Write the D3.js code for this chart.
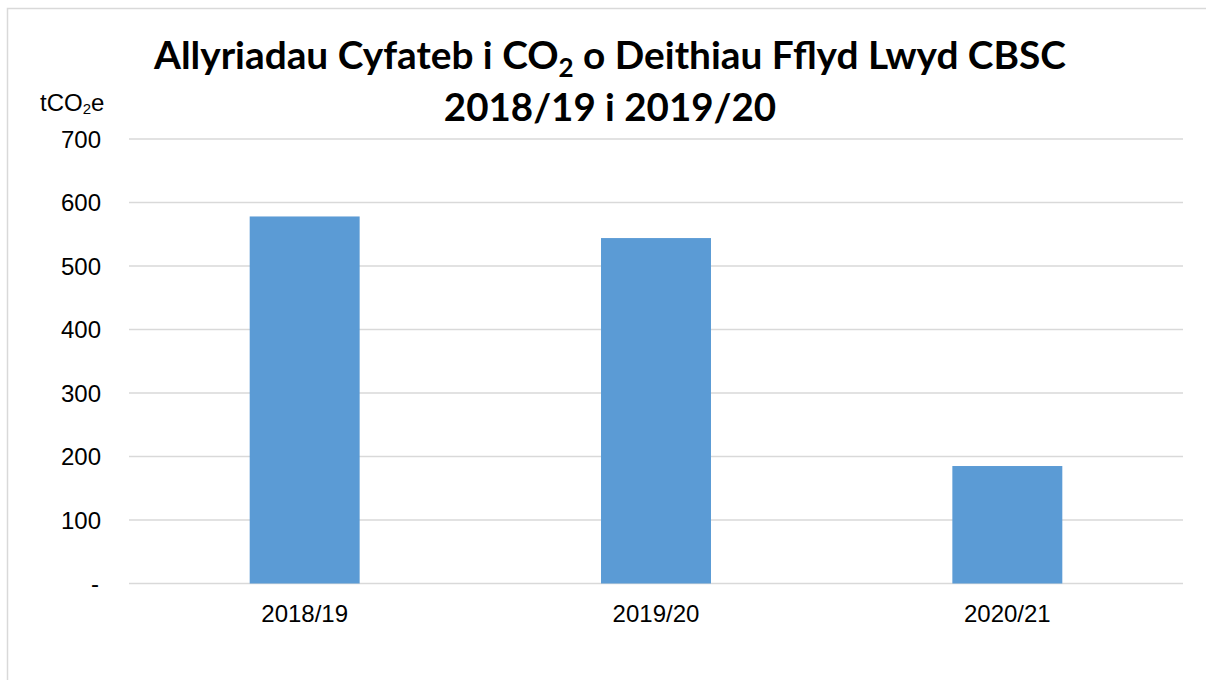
<!DOCTYPE html>
<html>
<head>
<meta charset="utf-8">
<script src="https://cdn.jsdelivr.net/npm/d3@7"></script>
<style>
  body { margin: 0; background: #fff; }
  svg { display: block; }
</style>
</head>
<body>
<svg id="chart"></svg>
<script>
const W = 1206, H = 680

const years = ['2018/19', '2019/20', '2020/21']
const emissions = [578, 544, 185]
const yTicks = [0, 100, 200, 300, 400, 500, 600, 700]

const margin = { left: 129, right: 23, top: 139, bottom: 96 }
const labelFont = 'Liberation Sans, Arial, sans-serif'

const svg = d3.select('#chart').attr('width', W).attr('height', H)

// chart frame
svg.append('rect')
  .attr('x', 7.5).attr('y', 8.5)
  .attr('width', W + 10).attr('height', H + 10)
  .attr('fill', 'none').attr('stroke', '#d9d9d9').attr('stroke-width', 1.5)

const x = d3.scaleBand()
  .domain(years)
  .range([margin.left, W - margin.right])
  .paddingInner(0.687).paddingOuter(0.3435)

const y = d3.scaleLinear()
  .domain([0, 700])
  .range([H - margin.bottom - 0.5, margin.top])

// gridlines
svg.append('g').selectAll('line')
  .data(yTicks)
  .enter().append('line')
  .attr('x1', margin.left).attr('x2', W - margin.right)
  .attr('y1', d => y(d)).attr('y2', d => y(d))
  .attr('stroke', '#d9d9d9').attr('stroke-width', 1.5)

// y tick labels
svg.append('g').selectAll('text')
  .data(yTicks)
  .enter().append('text')
  .attr('x', d => d === 0 ? 99 : 101)
  .attr('y', d => y(d) + 8.5)
  .attr('text-anchor', 'end')
  .attr('font-family', labelFont)
  .attr('font-size', 24)
  .attr('fill', '#000')
  .text(d => d === 0 ? '-' : d)

// bars
svg.append('g').selectAll('rect')
  .data(emissions)
  .enter().append('rect')
  .attr('x', (d, i) => x(years[i]))
  .attr('width', x.bandwidth())
  .attr('y', d => y(d))
  .attr('height', d => y(0) - y(d))
  .attr('fill', '#5b9bd5')

// x labels
svg.append('g').selectAll('text')
  .data(years)
  .enter().append('text')
  .attr('x', d => x(d) + x.bandwidth() / 2)
  .attr('y', y(0) + 38)
  .attr('text-anchor', 'middle')
  .attr('font-family', labelFont)
  .attr('font-size', 24)
  .attr('fill', '#000')
  .text(d => d)

// unit label
const unit = svg.append('text')
  .attr('x', 40).attr('y', 111)
  .attr('font-family', labelFont)
  .attr('font-size', 24)
  .attr('fill', '#000')
unit.append('tspan').text('tCO')
unit.append('tspan').attr('font-size', 15).attr('dy', 3).text('2')
unit.append('tspan').attr('dy', -3).text('e')

// title
const titleFont = 'Lato, Open Sans, sans-serif'
const t1 = svg.append('text')
  .attr('x', 610).attr('y', 69)
  .attr('text-anchor', 'middle')
  .attr('font-family', titleFont)
  .attr('font-weight', 'bold')
  .attr('font-size', 38.8)
  .attr('fill', '#000')
t1.append('tspan').text('Allyriadau Cyfateb i CO')
t1.append('tspan').attr('font-size', 26).attr('dy', 8).text('2')
t1.append('tspan').attr('dy', -8).text(' o Deithiau Fflyd Lwyd CBSC')

svg.append('text')
  .attr('x', 610).attr('y', 121)
  .attr('text-anchor', 'middle')
  .attr('font-family', titleFont)
  .attr('font-weight', 'bold')
  .attr('font-size', 38.5)
  .attr('fill', '#000')
  .text('2018/19 i 2019/20')
</script>
</body>
</html>
